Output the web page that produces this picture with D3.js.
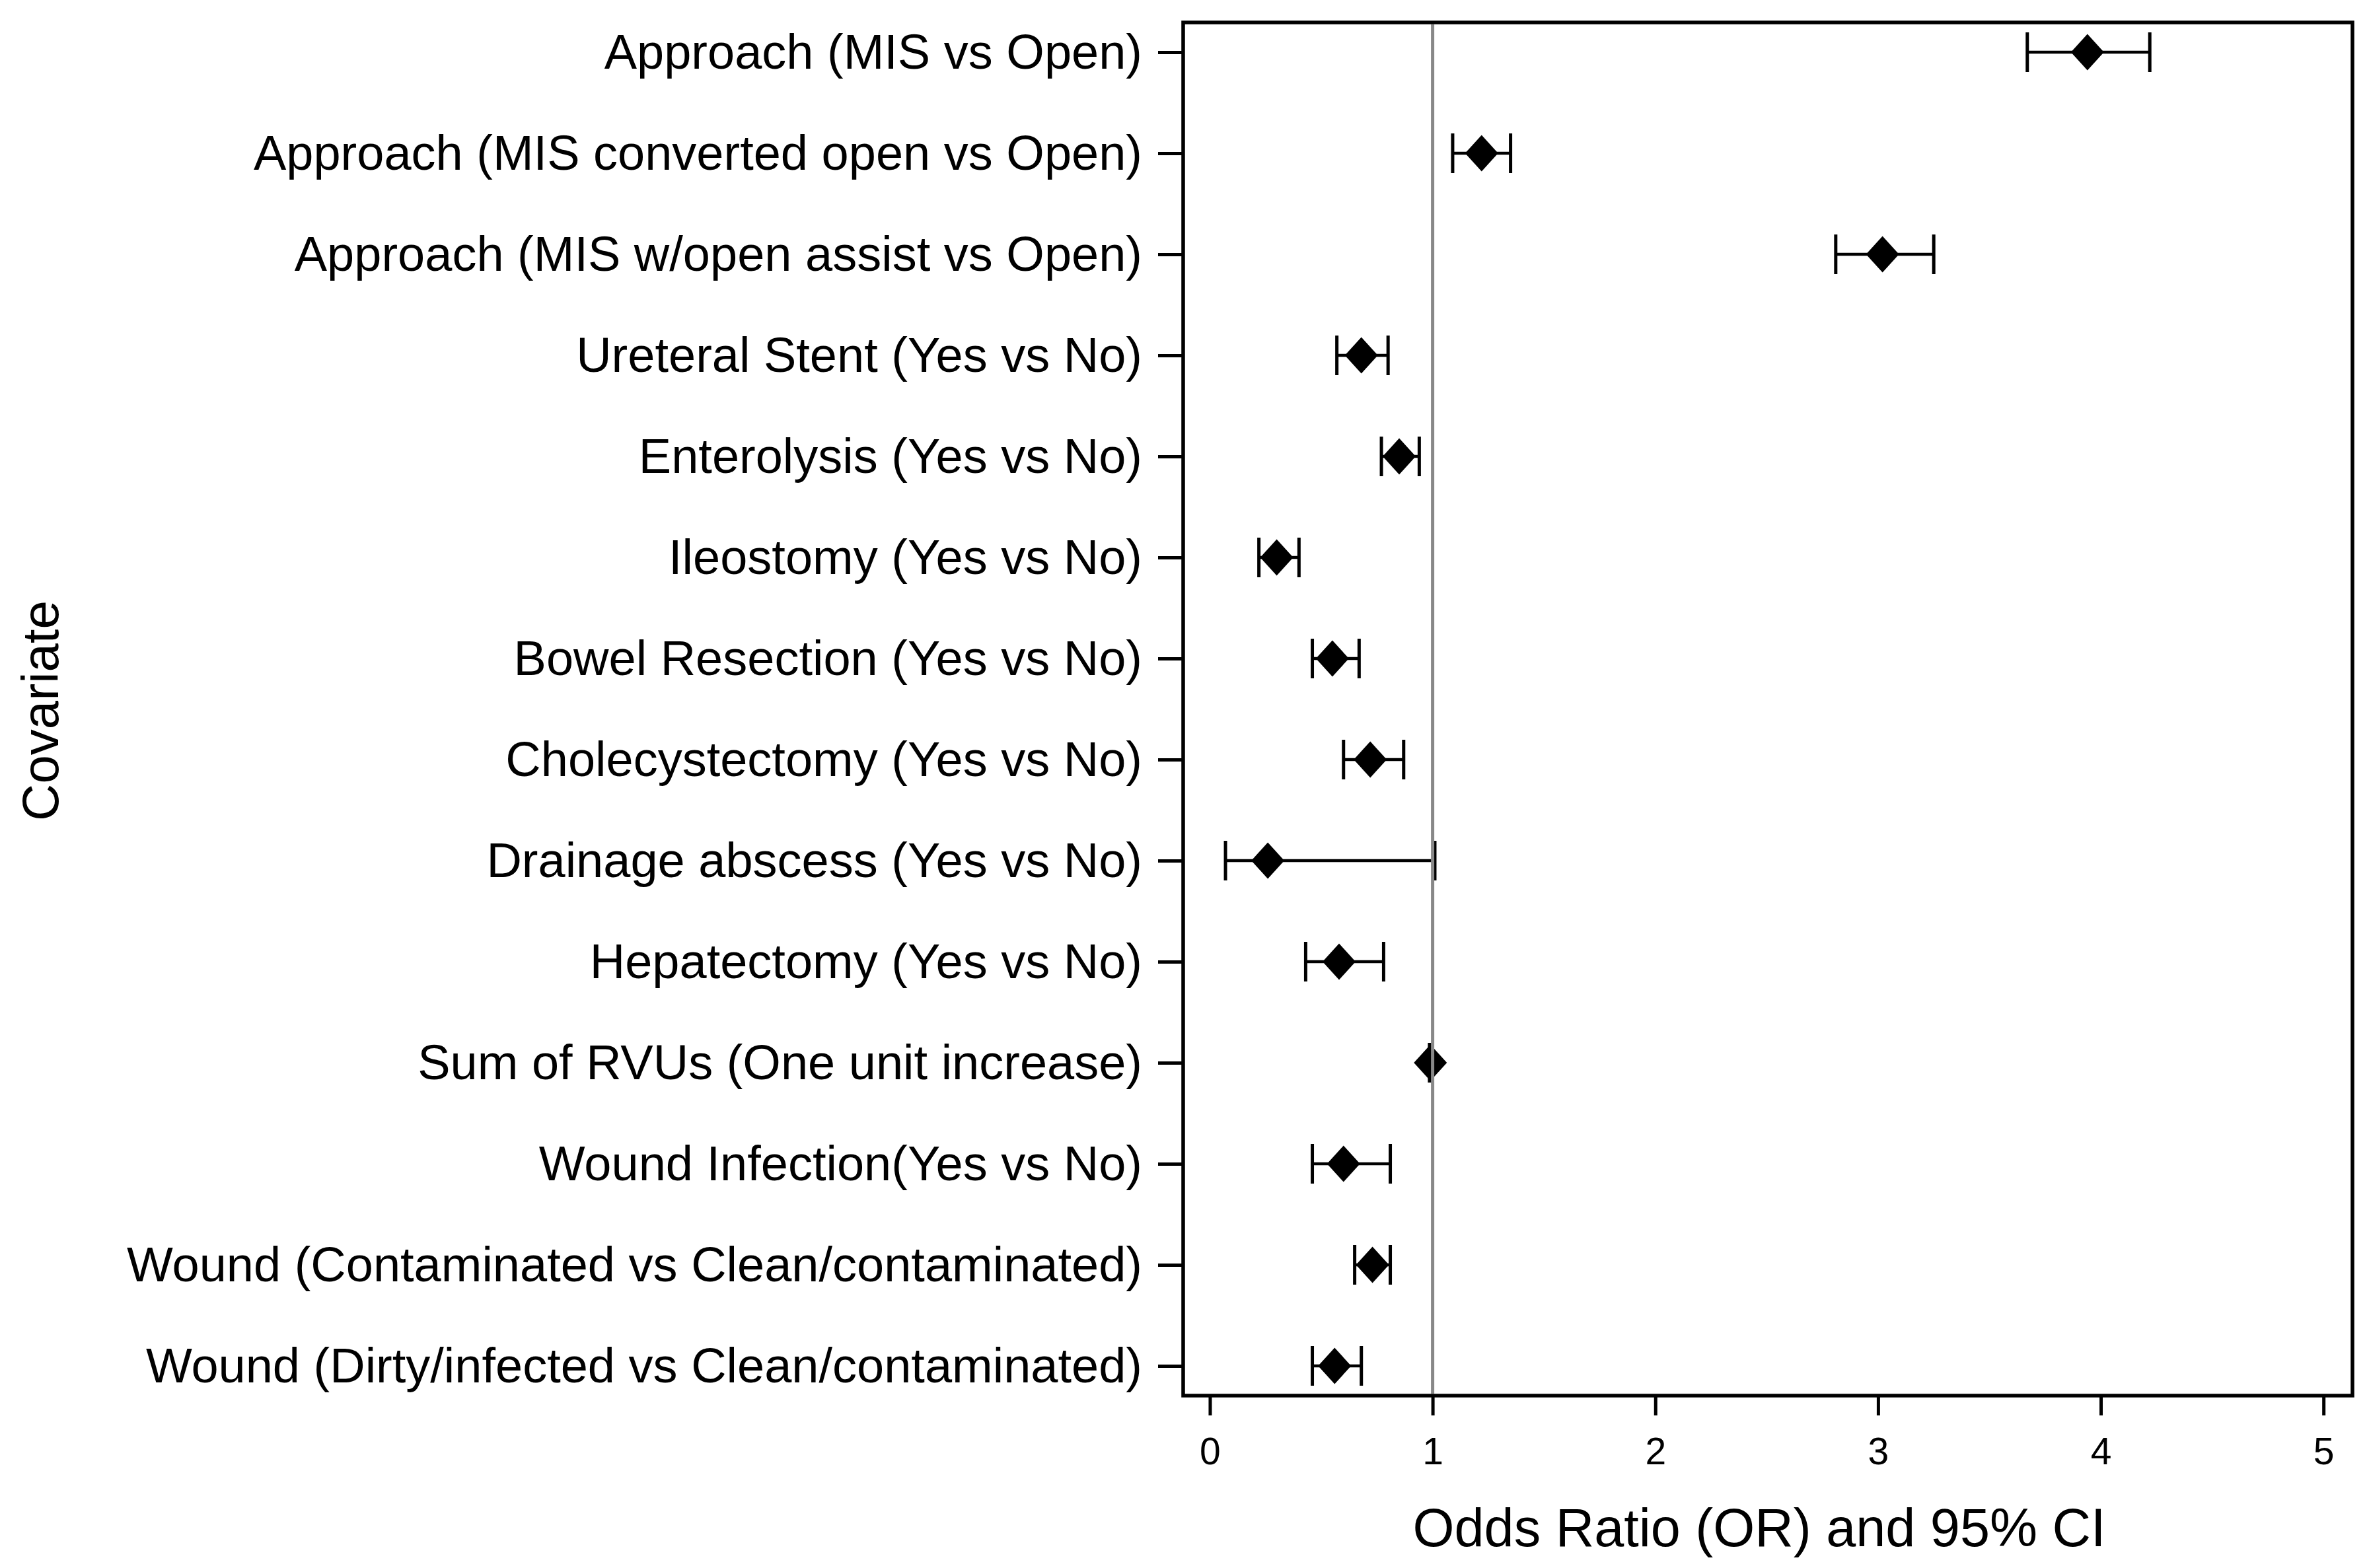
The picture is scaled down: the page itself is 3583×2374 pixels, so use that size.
<!DOCTYPE html>
<html>
<head>
<meta charset="utf-8">
<script src="https://cdn.jsdelivr.net/npm/d3@7"></script>
<style>
  body { margin: 0; background: #fff; }
  text { font-family: "Liberation Sans", Arial, sans-serif; fill: #000; }
</style>
</head>
<body>
<div id="chart"></div>
<script>
// covariates, top to bottom
const COVARIATES = [
  "Approach (MIS vs Open)",
  "Approach (MIS converted open vs Open)",
  "Approach (MIS w/open assist vs Open)",
  "Ureteral Stent (Yes vs No)",
  "Enterolysis (Yes vs No)",
  "Ileostomy (Yes vs No)",
  "Bowel Resection (Yes vs No)",
  "Cholecystectomy (Yes vs No)",
  "Drainage abscess (Yes vs No)",
  "Hepatectomy (Yes vs No)",
  "Sum of RVUs (One unit increase)",
  "Wound Infection(Yes vs No)",
  "Wound (Contaminated vs Clean/contaminated)",
  "Wound (Dirty/infected vs Clean/contaminated)"
];
const ODDS_RATIO = [3.94, 1.22, 3.02, 0.68, 0.85, 0.30, 0.55, 0.72, 0.26, 0.58, 0.99, 0.60, 0.73, 0.56];
const CI_LOWER   = [3.67, 1.09, 2.81, 0.57, 0.77, 0.22, 0.46, 0.60, 0.07, 0.43, 0.986, 0.46, 0.65, 0.46];
const CI_UPPER   = [4.22, 1.35, 3.25, 0.80, 0.94, 0.40, 0.67, 0.87, 1.01, 0.78, 0.995, 0.81, 0.81, 0.68];
const X_TICKS = [0, 1, 2, 3, 4, 5];

const width = 3583, height = 2374;
const plot = { left: 1791, right: 3561, top: 34, bottom: 2113 };

const svg = d3.select("#chart").append("svg")
  .attr("width", width)
  .attr("height", height)
  .style("background", "#fff");

const x = d3.scaleLinear().domain([-0.12, 5.13]).range([plot.left, plot.right]);
const y = d3.scalePoint().domain(COVARIATES).range([79, 2068]);

const rows = COVARIATES.map((name, i) => ({
  name, or: ODDS_RATIO[i], lo: CI_LOWER[i], hi: CI_UPPER[i]
}));

// frame
svg.append("rect")
  .attr("x", plot.left)
  .attr("y", plot.top)
  .attr("width", plot.right - plot.left)
  .attr("height", plot.bottom - plot.top)
  .attr("fill", "none")
  .attr("stroke", "#000")
  .attr("stroke-width", 5.5);

// y axis (covariates)
const yAxis = svg.append("g")
  .attr("transform", `translate(${plot.left},0)`)
  .call(d3.axisLeft(y).tickSize(38).tickPadding(24));
yAxis.select(".domain").remove();
yAxis.selectAll(".tick line").attr("stroke", "#000").attr("stroke-width", 5);
yAxis.selectAll(".tick text")
  .attr("dy", "0.33em")
  .style("font-size", "74px")
  .style("font-family", "'Liberation Sans', Arial, sans-serif")
  .attr("fill", "#000");

// x axis
const xAxis = svg.append("g")
  .attr("transform", `translate(0,${plot.bottom})`)
  .call(d3.axisBottom(x).tickValues(X_TICKS).tickFormat(d3.format("d")).tickSize(30).tickPadding(34));
xAxis.select(".domain").remove();
xAxis.selectAll(".tick line").attr("stroke", "#000").attr("stroke-width", 5);
xAxis.selectAll(".tick text")
  .style("font-size", "57px")
  .style("font-family", "'Liberation Sans', Arial, sans-serif")
  .attr("fill", "#000");

// confidence interval lines
const capH = 30;
const ci = svg.append("g").attr("class", "ci");
ci.selectAll("line.bar")
  .data(rows)
  .join("line")
  .attr("class", "bar")
  .attr("x1", d => x(d.lo))
  .attr("x2", d => x(d.hi))
  .attr("y1", d => y(d.name))
  .attr("y2", d => y(d.name))
  .attr("stroke", "#000")
  .attr("stroke-width", 4.5);

ci.selectAll("line.caplo")
  .data(rows)
  .join("line")
  .attr("class", "caplo")
  .attr("x1", d => x(d.lo))
  .attr("x2", d => x(d.lo))
  .attr("y1", d => y(d.name) - capH)
  .attr("y2", d => y(d.name) + capH)
  .attr("stroke", "#000")
  .attr("stroke-width", 5);

ci.selectAll("line.caphi")
  .data(rows)
  .join("line")
  .attr("class", "caphi")
  .attr("x1", d => x(d.hi))
  .attr("x2", d => x(d.hi))
  .attr("y1", d => y(d.name) - capH)
  .attr("y2", d => y(d.name) + capH)
  .attr("stroke", "#000")
  .attr("stroke-width", 5);

// diamonds at the odds ratio
const dw = 25, dh = 27.5;
svg.append("g").selectAll("path")
  .data(rows)
  .join("path")
  .attr("d", d => {
    const cx = x(d.or), cy = y(d.name);
    return `M${cx},${cy - dh}L${cx + dw},${cy}L${cx},${cy + dh}L${cx - dw},${cy}Z`;
  })
  .attr("fill", "#000");

// reference line at OR = 1
svg.append("line")
  .attr("x1", x(1))
  .attr("x2", x(1))
  .attr("y1", plot.top + 3)
  .attr("y2", plot.bottom - 3)
  .attr("stroke", "#888")
  .attr("stroke-width", 5);

// axis titles
svg.append("text")
  .attr("x", 2663)
  .attr("y", 2341)
  .attr("text-anchor", "middle")
  .style("font-size", "81px")
  .text("Odds Ratio (OR) and 95% CI");

svg.append("text")
  .attr("transform", `translate(88,1076) rotate(-90)`)
  .attr("text-anchor", "middle")
  .style("font-size", "78px")
  .text("Covariate");
</script>
</body>
</html>
